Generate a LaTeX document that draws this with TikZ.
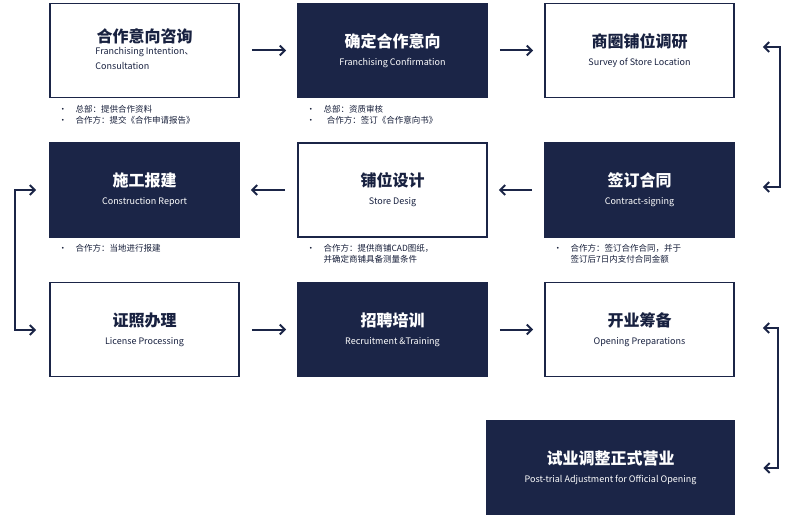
\documentclass[tikz,border=0pt]{standalone}
\usepackage{fontspec}
\setmainfont{Noto Sans CJK SC}
\usetikzlibrary{arrows.meta}
\definecolor{navy}{HTML}{1B2547}
\newcommand\zhf{\fontsize{16}{18}\selectfont\bfseries}
\newcommand\enf{\fontsize{9}{11}\selectfont}
\begin{document}
\begin{tikzpicture}[x=1pt,y=-1pt,
  box/.style={draw=navy,line width=1.6pt,minimum width=189pt,minimum height=94pt,inner sep=0pt,align=center},
  wbox/.style={box,fill=white,text=navy!90!black},
  dbox/.style={box,fill=navy,text=white},
  note/.style={anchor=north west,font=\fontsize{8.5}{11}\selectfont,text=navy!80!black,align=left},
  arr/.style={draw=navy,line width=2pt,-{Straight Barb[length=5pt,width=10pt]}},
  brk/.style={draw=navy,line width=2pt,{Straight Barb[length=5pt,width=10pt]}-{Straight Barb[length=5pt,width=10pt]}}]
\useasboundingbox (0,0) rectangle (800,521);
\node[wbox] (a) at (144.5,50.5) {{\zhf 合作意向咨询}\\[2pt]{\enf\begin{tabular}{@{}l@{}}Franchising Intention、\\[4pt]Consultation\end{tabular}}};
\node[dbox] (b) at (392.5,50.5) {{\zhf 确定合作意向}\\[6pt]{\enf Franchising Confirmation}};
\node[wbox] (c) at (639.5,50.5) {{\zhf 商圈铺位调研}\\[6pt]{\enf Survey of Store Location}};
\node[dbox] (d) at (144.5,190) {{\zhf 施工报建}\\[6pt]{\enf Construction Report}};
\node[wbox] (e) at (392.5,190) {{\zhf 铺位设计}\\[6pt]{\enf Store Desig}};
\node[dbox] (f) at (639.5,190) {{\zhf 签订合同}\\[6pt]{\enf Contract-signing}};
\node[wbox] (g) at (144.5,329.5) {{\zhf 证照办理}\\[6pt]{\enf License Processing}};
\node[dbox] (h) at (392.5,329.5) {{\zhf 招聘培训}\\[6pt]{\enf Recruitment \&Training}};
\node[wbox] (i) at (639.5,329.5) {{\zhf 开业筹备}\\[6pt]{\enf Opening Preparations}};
\node[dbox,minimum width=248pt] (j) at (610.5,467.5) {{\zhf 试业调整正式营业}\\[6pt]{\enf Post-trial Adjustment for Official Opening}};
\node[note] (n1) at (55,102) {•\quad 总部：提供合作资料\\•\quad 合作方：提交《合作申请报告》};
\node[note] (n2) at (303,102) {•\quad 总部：资质审核\\•\quad\, 合作方：签订《合作意向书》};
\node[note] (n3) at (55,241) {•\quad 合作方：当地进行报建};
\node[note] (n4) at (303,241) {•\quad 合作方：提供商铺CAD图纸，\\\phantom{•}\quad 并确定商铺具备测量条件};
\node[note] (n5) at (550,241) {•\quad 合作方：签订合作合同，并于\\\phantom{•}\quad 签订后7日内支付合同金额};
\draw[arr] ([xshift=12pt]a.east) -- ([xshift=-11pt]b.west);
\draw[arr] ([xshift=12pt]b.east) -- ([xshift=-11pt]c.west);
\draw[arr] ([xshift=-12pt]e.west) -- ([xshift=11pt]d.east);
\draw[arr] ([xshift=-12pt]f.west) -- ([xshift=11pt]e.east);
\draw[arr] ([xshift=12pt]g.east) -- ([xshift=-11pt]h.west);
\draw[arr] ([xshift=12pt]h.east) -- ([xshift=-11pt]i.west);
\coordinate (r1) at (780,47); \coordinate (r2) at (780,187);
\draw[brk] ([xshift=28pt]c.east |- r1) -- (r1) -- (r2) -- ([xshift=28pt]f.east |- r2);
\coordinate (l1) at (15,190); \coordinate (l2) at (15,330);
\draw[brk] ([xshift=-13pt]d.west |- l1) -- (l1) -- (l2) -- ([xshift=-13pt]g.west |- l2);
\coordinate (s1) at (778,328); \coordinate (s2) at (778,468);
\draw[brk] ([xshift=28pt]i.east |- s1) -- (s1) -- (s2) -- ([xshift=28pt]j.east |- s2);
\end{tikzpicture}
\end{document}
